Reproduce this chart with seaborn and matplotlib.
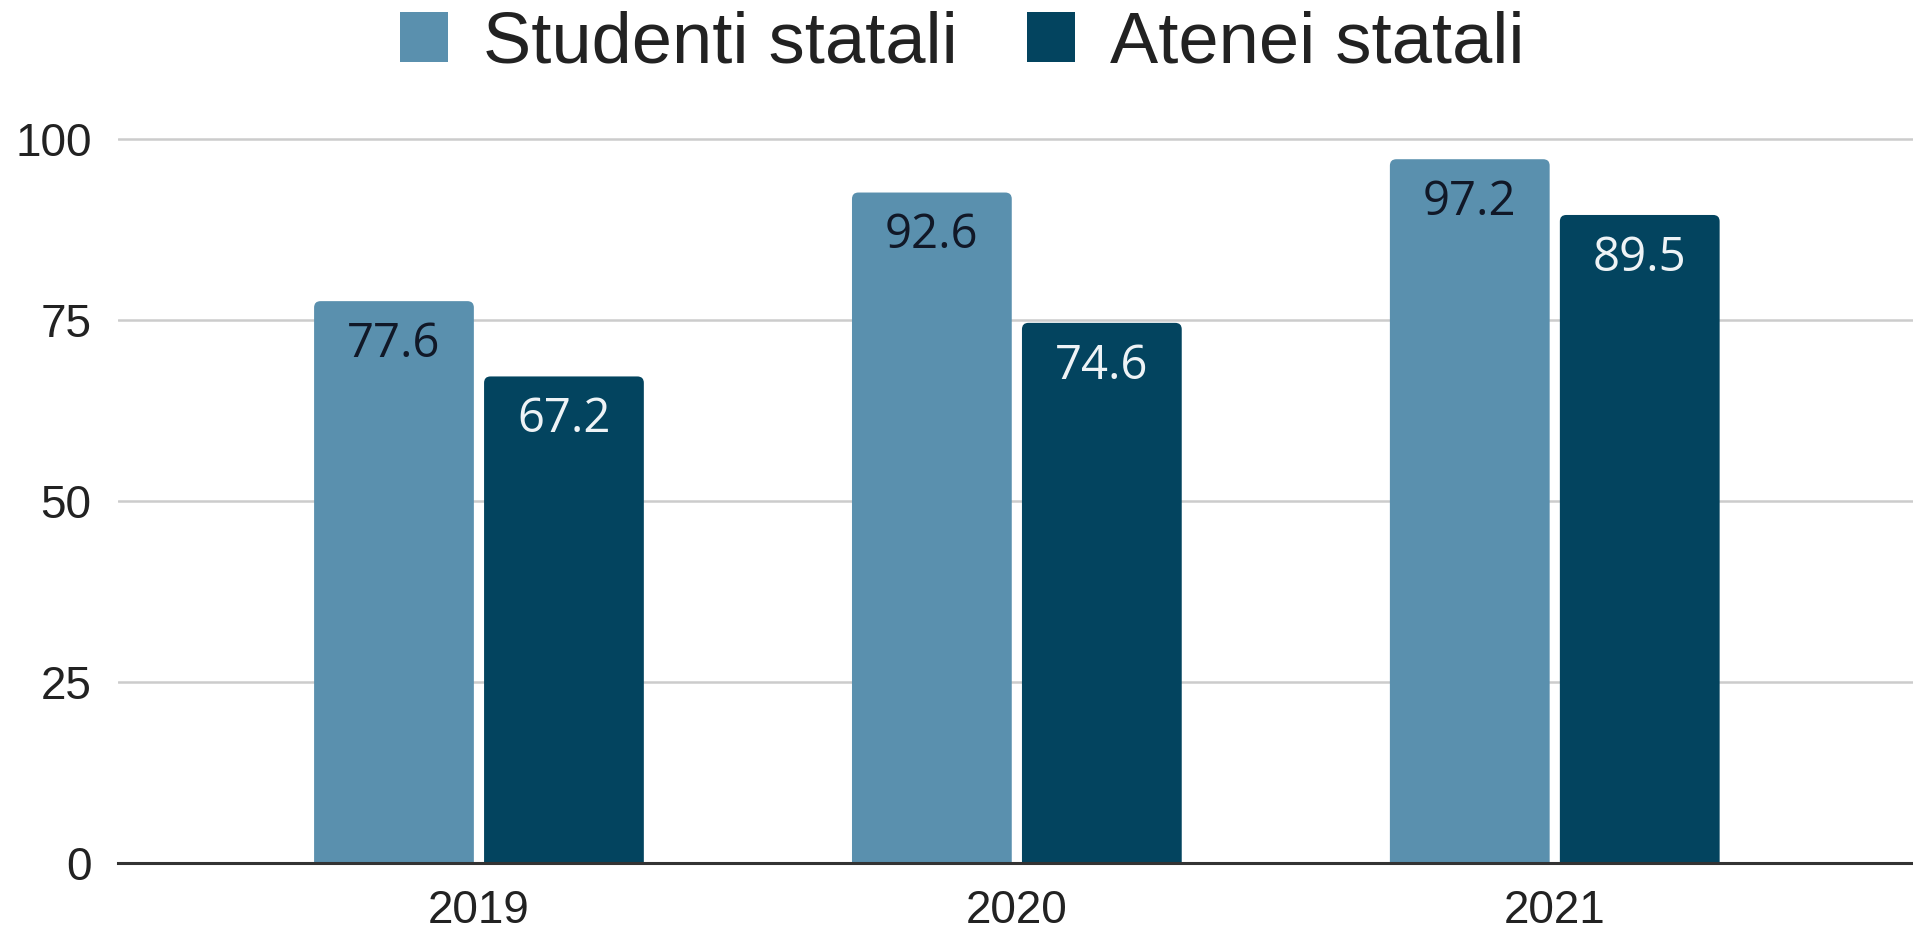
import pandas as pd
import seaborn as sns
import matplotlib.pyplot as plt
from matplotlib.patches import FancyBboxPatch, Patch

anni = ['2019', '2020', '2021']
studenti_statali = [77.6, 92.6, 97.2]
atenei_statali = [67.2, 74.6, 89.5]
serie = ['Studenti statali', 'Atenei statali']
colori = ['#5a90ae', '#03445f']

df = pd.DataFrame({
    'anno': anni * 2,
    'valore': studenti_statali + atenei_statali,
    'serie': [serie[0]] * 3 + [serie[1]] * 3,
})

sns.set_style('white')
plt.rcParams['font.family'] = ['Liberation Sans', 'DejaVu Sans']

fig = plt.figure(figsize=(19.13, 9.33), dpi=100)
ax = fig.add_axes([0.0617, 0.075, 0.9383, 0.7916])

sns.barplot(data=df, x='anno', y='valore', hue='serie', palette=colori,
            width=0.632, gap=0.06, saturation=1, legend=False, ax=ax)

ax.set_ylim(0, 102)
ax.set_xlim(-0.671, 2.666)
ax.set_yticks([0, 25, 50, 75, 100])
ax.yaxis.grid(True, color='#cccccc', linewidth=1.8)
ax.set_axisbelow(True)
for s in ['top', 'right', 'left']:
    ax.spines[s].set_visible(False)
ax.spines['bottom'].set_color('#333333')
ax.spines['bottom'].set_linewidth(2.2)
ax.spines['bottom'].set_zorder(5)
ax.tick_params(axis='both', length=0, labelsize=33, colors='#222222')
ax.tick_params(axis='y', pad=19)
ax.tick_params(axis='x', pad=19)
ax.set_xlabel('')
ax.set_ylabel('')

# angoli arrotondati
asp = 74.0
for p in list(ax.patches):
    x, y = p.get_x(), p.get_y()
    w, h = p.get_width(), p.get_height()
    p.set_visible(False)
    ax.add_patch(FancyBboxPatch((x, y - 1.5), w, h + 1.5,
                                boxstyle='round,pad=0,rounding_size=0.012',
                                mutation_aspect=asp, facecolor=p.get_facecolor(),
                                edgecolor='none', zorder=2))

# etichette dentro le barre
text_colors = ['#111827', '#eef3f6']
for cont, tc in zip(ax.containers, text_colors):
    txts = ax.bar_label(cont, fmt='%.1f', padding=-31, fontsize=34,
                        color=tc, family=['Open Sans', 'DejaVu Sans'])
    for t in txts:
        t.set_va('center')
        t.set_zorder(4)

handles = [Patch(facecolor=c, edgecolor='none') for c in colori]
fig.legend(handles, serie, loc='center', bbox_to_anchor=(0.503, 0.953), ncol=2,
           frameon=False, fontsize=52, handlelength=0.66, handleheight=0.68,
           handletextpad=0.49, columnspacing=0.96, labelcolor='#222222')

plt.savefig('out.png', dpi=100)
